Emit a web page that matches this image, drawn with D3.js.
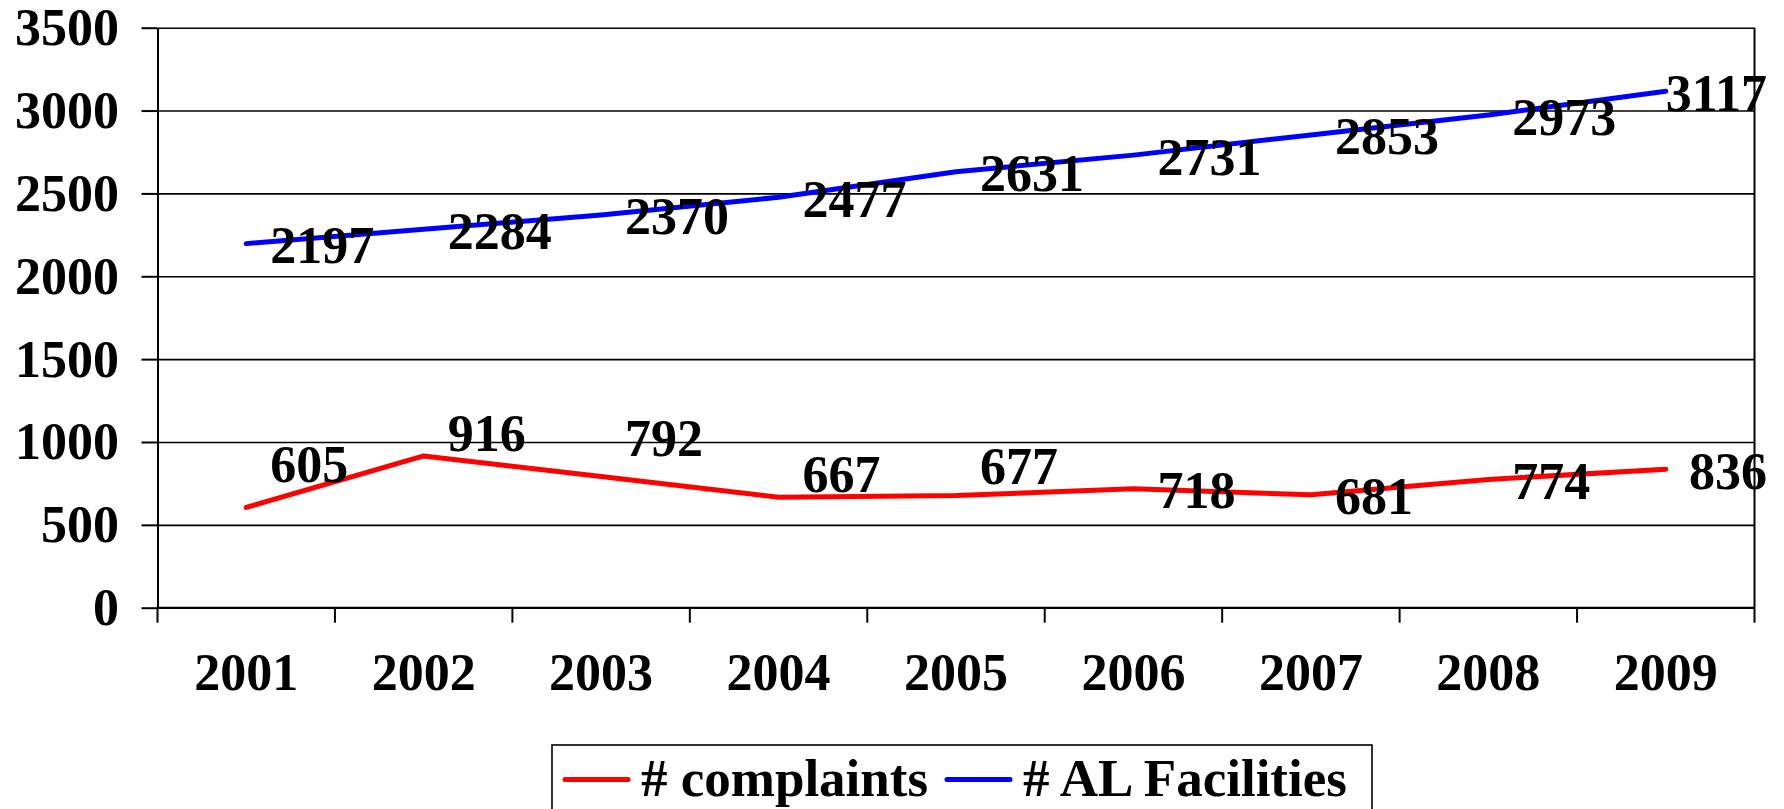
<!DOCTYPE html>
<html>
<head>
<meta charset="utf-8">
<script src="https://cdn.jsdelivr.net/npm/d3@7"></script>
<style>
  body { margin: 0; background: #fff; }
  svg text { font-family: "Liberation Serif", "Times New Roman", serif; font-weight: bold; }
</style>
</head>
<body>
<div id="canvas"></div>
<script>
//chart values
var years = ['2001', '2002', '2003', '2004', '2005', '2006', '2007', '2008', '2009'];
var complaints = [605, 916, 792, 667, 677, 718, 681, 774, 836];
var facilities = [2197, 2284, 2370, 2477, 2631, 2731, 2853, 2973, 3117];
var yTicks = [0, 500, 1000, 1500, 2000, 2500, 3000, 3500];
var seriesNames = ['# complaints', '# AL Facilities'];

//label nudges (baseline offset from the point), as placed in the original
var complaintsLabelDy = [-25, -4.5, -20.5, -5, -11.5, 19.5, 19.5, 19.5, 19.5];
var facilitiesLabelDy = [19.5, 19.5, 19.5, 19.5, 19.5, 19.5, 19.5, 19.5, 19.5];

var cv = {
  'width': 1784,
  'height': 809,
  'left': 157.5,
  'right': 1754.5,
  'top': 27.7,
  'bottom': 607.7
};

var x = d3.scaleBand()
  .domain(years)
  .range([cv.left, cv.right])
  .padding(0);

var y = d3.scaleLinear()
  .domain([0, 3500])
  .range([cv.bottom, cv.top]);

var svg = d3.select('#canvas').append('svg')
  .attr('width', cv.width)
  .attr('height', cv.height);

//gridlines
svg.append('g')
  .attr('transform', 'translate(' + cv.left + ',0)')
  .call(d3.axisLeft(y).tickValues(yTicks).tickSize(-(cv.right - cv.left)).tickFormat(''))
  .call(g => g.select('.domain').remove())
  .call(g => g.selectAll('line').attr('stroke', '#000').attr('stroke-width', 1.6));

//y axis with outside ticks
svg.append('g')
  .attr('transform', 'translate(' + cv.left + ',0)')
  .call(d3.axisLeft(y).tickValues(yTicks).tickSize(16).tickSizeOuter(0).tickFormat(''))
  .call(g => g.select('.domain').attr('stroke-width', 2))
  .call(g => g.selectAll('line').attr('stroke-width', 2));

//y tick labels
svg.selectAll('.ylab')
  .data(yTicks)
  .enter().append('text')
  .attr('class', 'ylab')
  .attr('x', 119)
  .attr('y', d => y(d) + 17.5)
  .attr('text-anchor', 'end')
  .attr('font-size', 52)
  .text(d => d);

//x axis line + boundary ticks
svg.append('line')
  .attr('x1', cv.left).attr('x2', cv.right)
  .attr('y1', cv.bottom).attr('y2', cv.bottom)
  .attr('stroke', '#000').attr('stroke-width', 2);

var boundaries = years.map(d => x(d)).concat([cv.right]);
svg.selectAll('.xtick')
  .data(boundaries)
  .enter().append('line')
  .attr('class', 'xtick')
  .attr('x1', d => d).attr('x2', d => d)
  .attr('y1', cv.bottom).attr('y2', cv.bottom + 15)
  .attr('stroke', '#000').attr('stroke-width', 2);

//right border
svg.append('line')
  .attr('x1', cv.right).attr('x2', cv.right)
  .attr('y1', cv.top).attr('y2', cv.bottom)
  .attr('stroke', '#000').attr('stroke-width', 2);

//x labels
svg.selectAll('.xlab')
  .data(years)
  .enter().append('text')
  .attr('class', 'xlab')
  .attr('x', d => x(d) + x.bandwidth() / 2)
  .attr('y', 690)
  .attr('text-anchor', 'middle')
  .attr('font-size', 52)
  .text(d => d);

//lines
var line = d3.line()
  .x((d, i) => x(years[i]) + x.bandwidth() / 2)
  .y(d => y(d));

function drawSeries(values, color, dys) {
  svg.append('path')
    .datum(values)
    .attr('d', line)
    .attr('fill', 'none')
    .attr('stroke', color)
    .attr('stroke-width', 5)
    .attr('stroke-linecap', 'round')
    .attr('stroke-linejoin', 'round');

  svg.append('g').selectAll('text')
    .data(values)
    .enter().append('text')
    .attr('x', (d, i) => x(years[i]) + x.bandwidth() / 2 + 24)
    .attr('y', (d, i) => y(d) + dys[i])
    .attr('font-size', 52)
    .text(d => d)
    .each(function() {
      //keep label inside the chart like the original
      var t = d3.select(this);
      var w = this.getComputedTextLength();
      var lx = +t.attr('x');
      if (lx + w > 1767) t.attr('x', 1767 - w);
    });
}

drawSeries(facilities, '#0000ff', facilitiesLabelDy);
drawSeries(complaints, '#ff0000', complaintsLabelDy);

//legend
var legend = svg.append('g');
legend.append('rect')
  .attr('x', 552).attr('y', 745)
  .attr('width', 820).attr('height', 90)
  .attr('fill', '#fff')
  .attr('stroke', '#000').attr('stroke-width', 1.6);

var legendItems = [
  {name: seriesNames[0], color: '#ff0000', x0: 565},
  {name: seriesNames[1], color: '#0000ff', x0: 947}
];
legendItems.forEach(function(it) {
  legend.append('line')
    .attr('x1', it.x0).attr('x2', it.x0 + 63)
    .attr('y1', 779.5).attr('y2', 779.5)
    .attr('stroke', it.color).attr('stroke-width', 5)
    .attr('stroke-linecap', 'round');
  legend.append('text')
    .attr('x', it.x0 + 76)
    .attr('y', 796)
    .attr('font-size', 53)
    .text(it.name);
});
</script>
</body>
</html>
